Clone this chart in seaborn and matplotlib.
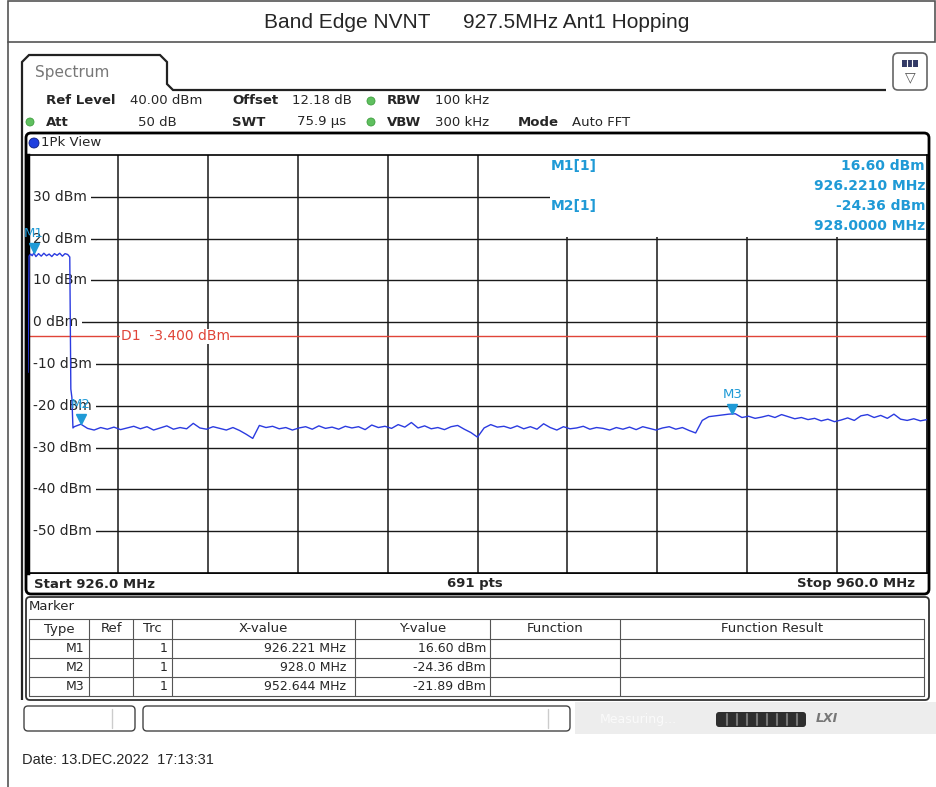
import numpy as np
import pandas as pd
import seaborn as sns
from matplotlib import pyplot as plt
from matplotlib.patches import Rectangle, FancyBboxPatch, Circle
from matplotlib.path import Path
from matplotlib.patches import PathPatch
from matplotlib.transforms import offset_copy

sns.set_style('white')
plt.rcParams['font.family'] = ['DejaVu Sans']

title_left = 'Band Edge NVNT'
title_right = '927.5MHz Ant1 Hopping'
date_text = 'Date: 13.DEC.2022  17:13:31'

# sweep settings
f_start, f_stop = 926.0, 960.0
ref_level, bottom_level = 40, -60
display_line = -3.4
n_points = 691

# trace: in-band part and falling edge
edge_freq = [926.0, 926.04, 926.1, 926.16, 926.221, 926.3, 926.4, 926.5, 926.6, 926.7,
             926.8, 926.9, 927.0, 927.1, 927.2, 927.3, 927.4, 927.5, 927.58, 927.62,
             927.66, 927.70]
edge_level = [-12.0, 15.8, 16.3, 15.9, 16.6, 15.7, 16.4, 15.8, 16.5, 15.9,
              16.3, 15.7, 16.4, 16.0, 16.5, 15.8, 16.4, 16.2, 15.6, -16.0,
              -18.0, -25.3]

# noise floor, 0.25 MHz apart from 927.75 MHz to 960 MHz
floor_freq = np.round(np.arange(927.75, 960.001, 0.25), 2)
floor_level = [
    -25.0, -24.4, -25.4, -25.8, -25.2, -25.6, -25.1, -25.7, -25.3, -24.9,
    -25.5, -25.0, -25.8, -25.3, -24.8, -25.6, -25.2, -25.5, -24.2, -25.3,
    -25.6, -25.0, -25.4, -25.8, -25.2, -25.9, -26.8, -27.8, -24.7, -25.2,
    -24.9, -25.5, -25.2, -25.8, -25.3, -25.0, -25.6, -24.8, -25.4, -25.1,
    -25.6, -24.9, -25.3, -25.0, -25.7, -24.6, -25.2, -24.9, -25.4, -24.5,
    -25.1, -24.0, -25.3, -24.8, -25.5, -25.2, -25.7, -25.0, -24.7, -25.6,
    -26.4, -27.5, -25.3, -24.5, -25.1, -24.9, -25.4, -24.8, -25.5, -25.0,
    -25.6, -24.3, -25.2, -25.8, -25.0, -25.5, -25.3, -24.9, -25.6, -25.2,
    -25.4, -25.8, -25.2, -25.6, -25.1, -25.7, -25.0, -25.4, -25.8, -25.3,
    -25.0, -25.6, -25.2, -25.9, -26.5, -23.5, -22.6, -22.4, -22.2, -22.0,
    -21.9, -22.8, -22.5, -23.0, -22.7, -22.3, -22.8, -22.1, -22.6, -23.1,
    -22.8, -23.3, -23.0, -23.6, -23.2, -23.8, -23.4, -22.9, -23.5, -22.4,
    -22.1, -22.8, -22.3, -23.0, -22.0, -23.2, -23.5, -23.1, -23.6, -23.3,
]

marker_names = ['M1', 'M2', 'M3']
marker_freq = [926.221, 928.0, 952.644]
marker_level = [16.60, -24.36, -21.89]
marker_xtext = ['926.221 MHz', '928.0 MHz', '952.644 MHz']

level_ticks = [30, 20, 10, 0, -10, -20, -30, -40, -50]
freq_grid = [929.4, 932.8, 936.2, 939.6, 943.0, 946.4, 949.8, 953.2, 956.6]

table_cols = ['Type', 'Ref', 'Trc', 'X-value', 'Y-value', 'Function', 'Function Result']

trace = pd.DataFrame({'freq': list(edge_freq) + list(floor_freq),
                      'level': list(edge_level) + list(floor_level)})

trace_color = '#2b3be0'
mk_color = '#1f9ad6'
line_red = '#e04438'

fig = plt.figure(figsize=(9.36, 7.87), dpi=100)
bg = fig.add_axes([0, 0, 1, 1])
bg.set_xlim(0, 936)
bg.set_ylim(787, 0)
bg.axis('off')
px = bg.transData

# page frame and title
bg.add_patch(Rectangle((8, 0.5), 927, 41.5, fc='white', ec='#555555', lw=1.2))
bg.plot([8, 8], [42, 787], color='#555555', lw=1.2)
bg.text(430, 22, title_left, ha='right', va='center', fontsize=15, family='Liberation Sans')
bg.text(463, 22, title_right, ha='left', va='center', fontsize=15, family='Liberation Sans')
bg.text(22, 760, date_text, ha='left', va='center', fontsize=10.5, family='Liberation Sans')

# Spectrum tab and window outline
tab = Path([(22, 700), (22, 62), (29, 55), (160, 55), (167, 62), (167, 84), (173, 90), (886, 90)])
bg.add_patch(PathPatch(tab, fc='none', ec='#222222', lw=1.6))
bg.text(35, 73, 'Spectrum', ha='left', va='center', fontsize=11, color='#777777')
bg.add_patch(FancyBboxPatch((893, 53), 34, 37, boxstyle='round,pad=0,rounding_size=5',
                            fc='white', ec='#666666', lw=1.2))
bg.add_patch(Rectangle((902, 60), 16, 7, fc='#333a66', ec='none'))
bg.plot([907, 907], [60, 67], color='white', lw=0.8)
bg.plot([912, 912], [60, 67], color='white', lw=0.8)
bg.text(910, 77, '\u25bd', ha='center', va='center', fontsize=10, color='#555555')

# setting lines
hdr = dict(va='center', fontsize=9.5)
bg.text(46, 101, 'Ref Level', weight='bold', **hdr)
bg.text(130, 101, '40.00 dBm', **hdr)
bg.text(232, 101, 'Offset', weight='bold', **hdr)
bg.text(292, 101, '12.18 dB', **hdr)
bg.text(387, 101, 'RBW', weight='bold', **hdr)
bg.text(435, 101, '100 kHz', **hdr)
bg.text(46, 122, 'Att', weight='bold', **hdr)
bg.text(177, 122, '50 dB', ha='right', **hdr)
bg.text(232, 122, 'SWT', weight='bold', **hdr)
bg.text(346, 122, '75.9 \u00b5s', ha='right', **hdr)
bg.text(387, 122, 'VBW', weight='bold', **hdr)
bg.text(435, 122, '300 kHz', **hdr)
bg.text(518, 122, 'Mode', weight='bold', **hdr)
bg.text(572, 122, 'Auto FFT', **hdr)
for cx, cy in [(371, 101), (30, 122), (371, 122)]:
    bg.add_patch(Circle((cx, cy), 4, fc='#5fbf5f', ec='#3f9f3f', lw=0.6))

# trace window
bg.add_patch(FancyBboxPatch((26, 133), 903, 461, boxstyle='round,pad=0,rounding_size=5',
                            fc='white', ec='black', lw=2))
bg.add_patch(Circle((34, 143), 5, fc='#1f3fdf', ec='#10207f', lw=0.6))
bg.text(41, 143, '1Pk View', va='center', fontsize=9.5)
bg.plot([26, 929], [573, 573], color='black', lw=1.2)
bg.text(34, 584, f'Start {f_start:.1f} MHz', va='center', fontsize=9.5, weight='bold')
bg.text(475, 584, f'{n_points} pts', ha='center', va='center', fontsize=9.5, weight='bold')
bg.text(915, 584, f'Stop {f_stop:.1f} MHz', ha='right', va='center', fontsize=9.5, weight='bold')

# marker table
bg.add_patch(FancyBboxPatch((26, 597), 903, 103, boxstyle='round,pad=0,rounding_size=4',
                            fc='white', ec='#333333', lw=1.3))
bg.text(29, 607, 'Marker', va='center', fontsize=9.5)
col_x = [29, 89, 133, 172, 355, 490, 620, 924]
row_y = [619, 639, 658, 677, 696]
for yy in row_y:
    bg.plot([29, 924], [yy, yy], color='#555555', lw=0.8)
for xx in col_x:
    bg.plot([xx, xx], [619, 696], color='#555555', lw=0.8)
for i, name in enumerate(table_cols):
    bg.text((col_x[i] + col_x[i + 1]) / 2, 629, name, ha='center', va='center', fontsize=9.5)
for i, name in enumerate(marker_names):
    yy = (row_y[i + 1] + row_y[i + 2]) / 2
    bg.text(84, yy, name, ha='right', va='center', fontsize=9)
    bg.text(168, yy, '1', ha='right', va='center', fontsize=9)
    bg.text(346, yy, marker_xtext[i], ha='right', va='center', fontsize=9)
    bg.text(486, yy, f'{marker_level[i]:.2f} dBm', ha='right', va='center', fontsize=9)

# status bar
bg.add_patch(Rectangle((575, 702), 361, 32, fc='#ededed', ec='none'))
bg.add_patch(FancyBboxPatch((24, 706), 111, 25, boxstyle='round,pad=0,rounding_size=4',
                            fc='white', ec='#444444', lw=1))
bg.plot([112, 112], [709, 728], color='#cccccc', lw=1)
bg.add_patch(FancyBboxPatch((143, 706), 427, 25, boxstyle='round,pad=0,rounding_size=4',
                            fc='white', ec='#444444', lw=1))
bg.plot([548, 548], [709, 728], color='#cccccc', lw=1)
bg.text(600, 719, 'Measuring...', va='center', fontsize=9, color='#fafafa')
bg.add_patch(FancyBboxPatch((716, 712), 90, 15, boxstyle='round,pad=0,rounding_size=3',
                            fc='#2e2e2e', ec='none'))
for xx in range(727, 800, 10):
    bg.plot([xx, xx], [714, 725], color='#777777', lw=1.5)
bg.text(816, 719, 'LXI', va='center', fontsize=9, weight='bold', style='italic', color='#777777')

# spectrum plot
ax = fig.add_axes([28 / 936, 1 - 573 / 787, 899 / 936, 418 / 787])
ax.set_zorder(2)
sns.lineplot(data=trace, x='freq', y='level', ax=ax, color=trace_color, lw=1.0,
             sort=False, estimator=None, zorder=3)
ax.set_xlim(f_start, f_stop)
ax.set_ylim(bottom_level, ref_level)
ax.set_xticks(freq_grid)
ax.set_yticks(level_ticks)
ax.tick_params(length=0, labelbottom=False, labelleft=False)
ax.set_xlabel('')
ax.set_ylabel('')
ax.set_axisbelow(True)
ax.grid(True, axis='y', color='#1a1a1a', lw=1.0)
ax.grid(True, axis='x', color='#3a3a3a', lw=1.3)
for s in ax.spines.values():
    s.set_color('black')
    s.set_linewidth(1.2)
ax.spines['left'].set_linewidth(2.5)

for v in level_ticks:
    ax.text(926.19, v, f'{v} dBm', ha='left', va='center', fontsize=10, zorder=2,
            bbox=dict(fc='white', ec='none', pad=3))

ax.axhline(display_line, color=line_red, lw=1.0, zorder=2.5)
ax.text(929.5, display_line, f'D1  {display_line:.3f} dBm', ha='left', va='center',
        fontsize=10, color=line_red, zorder=2.6, bbox=dict(fc='white', ec='none', pad=0.3))

# marker readout box
ax.add_patch(Rectangle((945.74, 20.45), f_stop - 945.74, ref_level - 20.45, fc='white',
                       ec='none', zorder=1.5))
info = dict(fontsize=10, weight='bold', color=mk_color, va='center', transform=px, zorder=4)
ax.text(551, 166, 'M1[1]', ha='left', **info)
ax.text(925, 166, f'{marker_level[0]:.2f} dBm', ha='right', **info)
ax.text(925, 186, f'{marker_freq[0]:.4f} MHz', ha='right', **info)
ax.text(551, 206, 'M2[1]', ha='left', **info)
ax.text(925, 206, f'{marker_level[1]:.2f} dBm', ha='right', **info)
ax.text(925, 226, f'{marker_freq[1]:.4f} MHz', ha='right', **info)

tri = offset_copy(ax.transData, fig=fig, x=0, y=3.5, units='points')
ax.plot(marker_freq, marker_level, 'v', ms=7, color=mk_color, transform=tri, zorder=5,
        clip_on=False)
lab = offset_copy(ax.transData, fig=fig, x=0, y=14, units='points')
for name, f, l in zip(marker_names, marker_freq, marker_level):
    ax.text(f, l, name, ha='center', va='center', fontsize=9.5, color=mk_color,
            transform=lab, zorder=5)

fig.savefig('out.png', dpi=100)
